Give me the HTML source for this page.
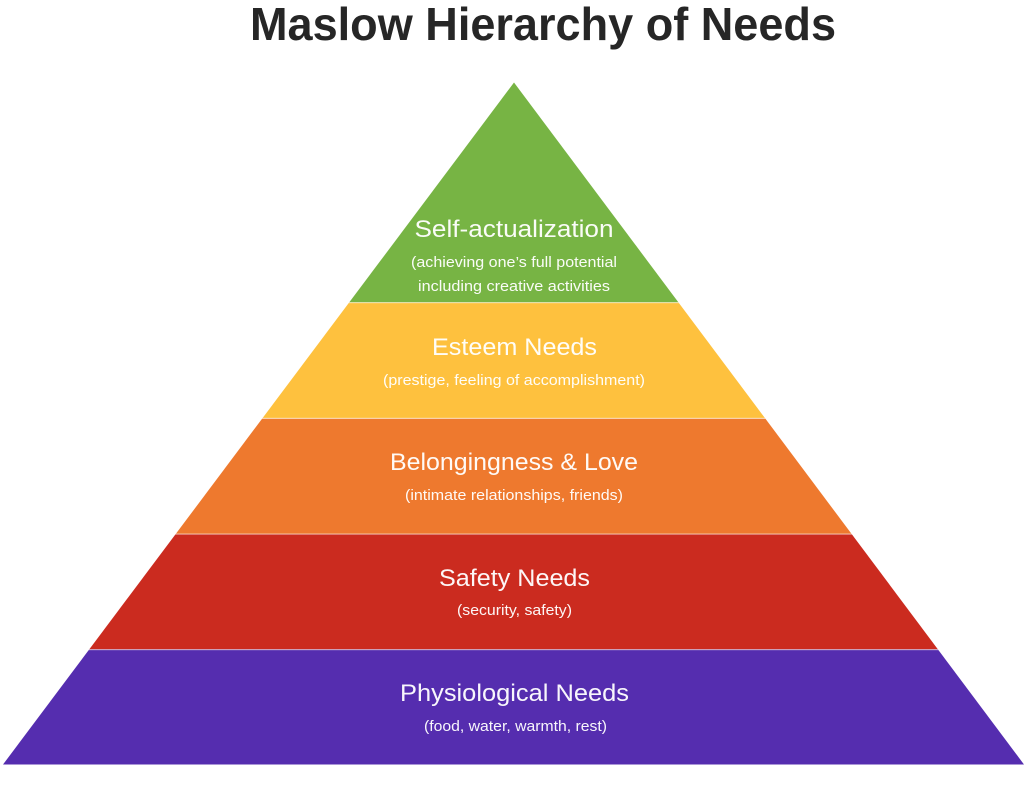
<!DOCTYPE html>
<html>
<head>
<meta charset="utf-8">
<style>
  html, body { margin: 0; padding: 0; background: #ffffff; }
  body { width: 1024px; height: 793px; overflow: hidden; }
  svg { display: block; }
</style>
</head>
<body>
<svg width="1024" height="793" viewBox="0 0 1024 793" xmlns="http://www.w3.org/2000/svg">
  <defs>
    <clipPath id="pyr">
      <polygon points="514,82.5 1024,764.5 3,764.5"/>
    </clipPath>
  </defs>

  <text x="543" y="40" text-anchor="middle" font-family="Liberation Sans, sans-serif" font-weight="bold" font-size="46" fill="#262626" textLength="586" lengthAdjust="spacingAndGlyphs">Maslow Hierarchy of Needs</text>

  <g clip-path="url(#pyr)">
    <rect x="0" y="80" width="1024" height="222.5" fill="#77B444"/>
    <rect x="0" y="302.5" width="1024" height="115.8" fill="#FEC13E"/>
    <rect x="0" y="418.3" width="1024" height="115.7" fill="#EE792E"/>
    <rect x="0" y="534" width="1024" height="115.5" fill="#CB2B1F"/>
    <rect x="0" y="649.5" width="1024" height="116" fill="#552DAF"/>
    <g fill="#ffffff" fill-opacity="0.55">
      <rect x="0" y="302" width="1024" height="1.2"/>
      <rect x="0" y="417.8" width="1024" height="1.2"/>
      <rect x="0" y="533.5" width="1024" height="1.2"/>
      <rect x="0" y="649" width="1024" height="1.2"/>
    </g>
  </g>

  <g font-family="Liberation Sans, sans-serif" fill="#ffffff" fill-opacity="0.96" text-anchor="middle">
    <text x="514" y="237" font-size="24" textLength="199" lengthAdjust="spacingAndGlyphs">Self-actualization</text>
    <text x="514" y="267" font-size="15" textLength="206" lengthAdjust="spacingAndGlyphs">(achieving one’s full potential</text>
    <text x="514" y="291" font-size="15" textLength="192" lengthAdjust="spacingAndGlyphs">including creative activities</text>

    <text x="514.5" y="355" font-size="24" textLength="165" lengthAdjust="spacingAndGlyphs">Esteem Needs</text>
    <text x="514" y="385" font-size="15" textLength="262" lengthAdjust="spacingAndGlyphs">(prestige, feeling of accomplishment)</text>

    <text x="514" y="470" font-size="24" textLength="248" lengthAdjust="spacingAndGlyphs">Belongingness &amp; Love</text>
    <text x="514" y="500" font-size="15" textLength="218" lengthAdjust="spacingAndGlyphs">(intimate relationships, friends)</text>

    <text x="514.5" y="586" font-size="24" textLength="151" lengthAdjust="spacingAndGlyphs">Safety Needs</text>
    <text x="514.5" y="615" font-size="15" textLength="115" lengthAdjust="spacingAndGlyphs">(security, safety)</text>

    <text x="514.5" y="701" font-size="24" textLength="229" lengthAdjust="spacingAndGlyphs">Physiological Needs</text>
    <text x="515.5" y="731" font-size="15" textLength="183" lengthAdjust="spacingAndGlyphs">(food, water, warmth, rest)</text>
  </g>
</svg>
</body>
</html>
